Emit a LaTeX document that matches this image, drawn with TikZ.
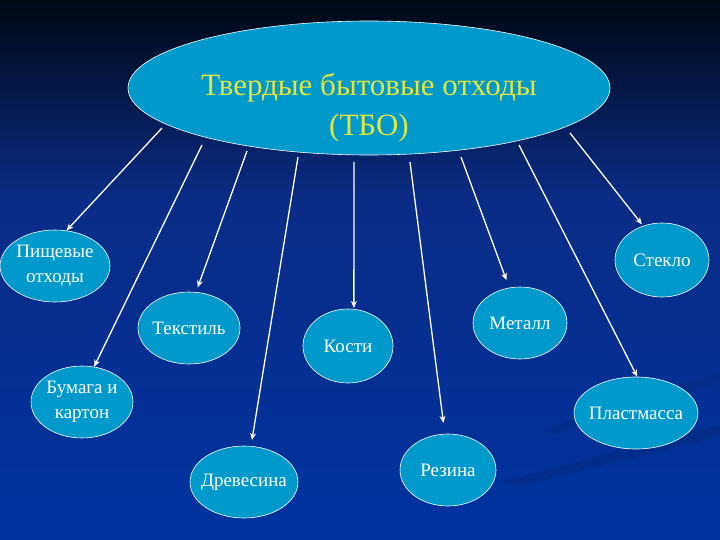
\documentclass[tikz,border=0pt]{standalone}
\usepackage{fontspec}
\setmainfont{Liberation Serif}
\usetikzlibrary{shapes.geometric,arrows.meta}
\definecolor{bgtop}{HTML}{000814}
\definecolor{bgmid}{HTML}{0A2C86}
\definecolor{bgbot}{HTML}{0033A0}
\definecolor{nodefill}{HTML}{0099CC}
\definecolor{titlecol}{HTML}{E6E63A}
\begin{document}
\begin{tikzpicture}[x=1pt,y=-1pt,
  leaf/.style n args={3}{ellipse,draw=white,line width=0.6pt,fill=nodefill,inner sep=0pt,
    minimum width=#1,minimum height=#2,
    label={[text=white,font=\fontsize{19}{25}\selectfont,align=center,inner sep=0pt]center:#3}},
  arr/.style={draw=white,line width=1.3pt,-{Stealth[length=7pt,width=6pt]}}]
\useasboundingbox (0,0) rectangle (720,540);
\shade[top color=bgtop,bottom color=bgmid] (0,0) rectangle (720,200);
\shade[top color=bgmid,bottom color=bgbot] (0,200) rectangle (720,540);
% faint streaks
\fill[black,opacity=0.10] (500,482) -- (720,424) -- (720,436) -- (520,486) -- cycle;
\fill[black,opacity=0.08] (540,430) -- (720,372) -- (720,382) -- (555,434) -- cycle;

\node[ellipse,draw=white,line width=0.6pt,fill=nodefill,
  minimum width=482pt,minimum height=134pt] (main) at (369,88) {};
\node[text=titlecol,font=\fontsize{31}{40}\selectfont,align=center,inner sep=0pt]
  (title) at (369,108) {Твердые бытовые отходы\\(ТБО)};

\node[leaf={110pt}{72pt}{Пищевые\\отходы}] (pish) at (55,266) {};
\node[leaf={94pt}{74pt}{Стекло}] (steklo) at (662,260) {};
\node[leaf={102pt}{72pt}{Текстиль}] (tekst) at (189,328) {};
\node[leaf={90pt}{74pt}{Кости}] (kosti) at (348,346) {};
\node[leaf={94pt}{72pt}{Металл}] (metall) at (520,323) {};
\node[leaf={102pt}{72pt}{Бумага и\\картон}] (bumaga) at (82,402) {};
\node[leaf={124pt}{72pt}{Пластмасса}] (plast) at (636,413) {};
\node[leaf={108pt}{72pt}{Древесина}] (drev) at (244,482) {};
\node[leaf={96pt}{72pt}{Резина}] (rez) at (448,470) {};

\coordinate (s1) at (162,128);
\coordinate (s2) at (202,145);
\coordinate (s3) at (247,151);
\coordinate (s4) at (298,157);
\coordinate (s5) at (354,162);
\coordinate (s6) at (410,162);
\coordinate (s7) at (461,157);
\coordinate (s8) at (519,145);
\coordinate (s9) at (570,133);

\draw[arr] (s1) -- (pish.72);
\draw[arr] (s2) -- (bumaga.71);
\draw[arr,shorten >=5pt] (s3) -- (tekst.79);
\draw[arr,shorten >=6pt] (s4) -- (drev.79);
\draw[arr,shorten >=1pt] (s5) -- (kosti.81);
\draw[arr,shorten >=11pt] (s6) -- (rez.95);
\draw[arr,shorten >=8pt] (s7) -- (metall.107);
\draw[arr] (s8) -- (plast.88);
\draw[arr,shorten >=2pt] (s9) -- (steklo.119);
\end{tikzpicture}
\end{document}
